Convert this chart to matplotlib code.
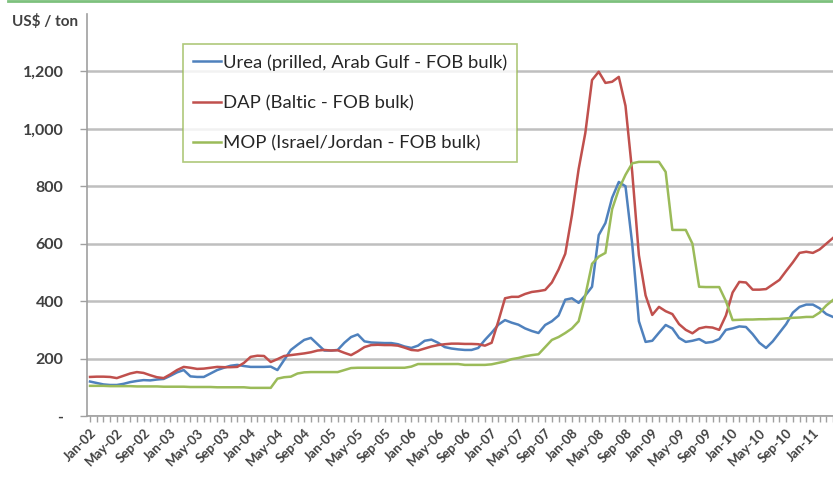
import numpy as np
import matplotlib
matplotlib.use("Agg")
import matplotlib.pyplot as plt
from matplotlib.lines import Line2D

# Monthly prices, Jan-02 onwards (US$ / ton)
urea = [120, 115, 110, 108, 108, 112, 118, 122, 125, 124, 127, 129,
        140, 152, 160, 138, 136, 136, 148, 160, 168, 175, 178, 174,
        171, 171, 171, 172, 160, 195, 230, 248, 265, 272, 250, 228,
        228, 230, 255, 275, 284, 260, 256, 255, 254, 254, 250, 242,
        237, 245, 262, 266, 255, 240, 235, 232, 230, 230, 237, 265,
        290, 318, 334, 325, 318, 305, 296, 289, 317, 330, 350, 405,
        410, 394, 420, 450, 630, 672, 760, 815, 800, 600, 330, 258,
        262, 290, 317, 305, 272, 258, 262, 268, 255, 258, 268, 300,
        305, 312, 310, 285, 255, 237, 260, 290, 320, 360, 380, 388,
        388, 375, 355, 345]
dap = [136, 137, 137, 136, 132, 140, 148, 153, 150, 142, 135, 132,
       145, 160, 171, 168, 164, 165, 168, 171, 170, 170, 171, 185,
       206, 210, 209, 188, 198, 209, 212, 215, 218, 222, 228, 230,
       228, 229, 220, 212, 225, 240, 247, 248, 247, 247, 245, 238,
       230, 228, 235, 242, 247, 250, 252, 252, 251, 251, 250, 245,
       255, 330, 410, 415, 415, 425, 432, 435, 439, 465, 510, 565,
       700, 860, 986, 1170, 1199, 1160, 1164, 1181, 1080, 850, 560, 420,
       352, 380, 365, 355, 320, 300, 288, 305, 310, 308, 300, 350,
       430, 467, 465, 440, 440, 442, 458, 474, 505, 535, 568, 572,
       568, 580, 600, 620]
mop = [105, 105, 105, 104, 104, 104, 104, 103, 103, 103, 103, 102,
       102, 102, 102, 101, 101, 101, 101, 100, 100, 100, 100, 100,
       98, 98, 98, 98, 130, 135, 137, 148, 152, 153, 153, 153,
       153, 153, 160, 167, 168, 168, 168, 168, 168, 168, 168, 168,
       172, 181, 181, 181, 181, 181, 181, 181, 178, 178, 178, 178,
       180, 185, 190, 198, 202, 208, 212, 215, 240, 265, 275, 289,
       305, 330, 420, 530, 555, 568, 720, 790, 840, 880, 885, 885,
       885, 885, 850, 648, 648, 648, 600, 450, 449, 449, 449, 400,
       334, 335, 336, 336, 337, 337, 338, 338, 340, 342, 343, 345,
       345, 360, 385, 404]

# labels every four months, Jan-02 .. Jan-11
tick_labels = [f"{m}-{y:02d}" for y in range(2, 12) for m in ["Jan", "May", "Sep"]][:28]
y_ticks = [0, 200, 400, 600, 800, 1000, 1200]
y_tick_labels = ["-", "200", "400", "600", "800", "1,000", "1,200"]

names = ["Urea (prilled, Arab Gulf - FOB bulk)",
         "DAP (Baltic - FOB bulk)",
         "MOP (Israel/Jordan - FOB bulk)"]
colors = ["#4F81BD", "#C0504D", "#9BBB59"]

plt.rcParams['font.family'] = ['Lato', 'DejaVu Sans']

fig = plt.figure(figsize=(8.33, 4.78), dpi=100)
ax = fig.add_axes([87 / 833, 62 / 478, 1 - 87 / 833, (416 - 14) / 478])

x = np.arange(len(urea))
for s, name, c in zip([urea, dap, mop], names, colors):
    ax.plot(x, s, color=c, lw=1.8, label=name)

ax.set_xlim(-0.45, 110.9)
ax.set_ylim(0, 1400)
ax.set_yticks(y_ticks)
ax.set_yticklabels(y_tick_labels, fontsize=11.5, fontweight='bold', color='#404040')
ax.yaxis.grid(True, color='#BFBFBF', lw=1.8)
ax.set_axisbelow(True)

ax.set_xticks(np.arange(len(tick_labels)) * 4)
ax.set_xticklabels(tick_labels, rotation=45, ha='right', rotation_mode='anchor',
                   fontsize=9.5, fontweight='bold', color='#404040')
ax.set_xticks(np.arange(0, 112), minor=True)
ax.tick_params(axis='x', which='both', length=4, color='#A0A0A0', width=1)
ax.tick_params(axis='y', length=5, color='#A0A0A0', width=1, pad=12)

for side in ['top', 'right']:
    ax.spines[side].set_visible(False)
for side in ['left', 'bottom']:
    ax.spines[side].set_color('#A0A0A0')
    ax.spines[side].set_linewidth(1.2)

fig.text(12 / 833, 1 - 22 / 478, "US$ / ton", fontsize=11, fontweight='bold',
         color='#404040', va='center')

leg = ax.legend(loc='upper left', bbox_to_anchor=(183 / 833, 1 - 44 / 478),
                bbox_transform=fig.transFigure, fontsize=13.3, frameon=True,
                fancybox=False, handlelength=1.5, handletextpad=0.1,
                labelspacing=1.32, borderpad=0.55, borderaxespad=0)
leg.get_frame().set_edgecolor('#9BBB59')
leg.get_frame().set_linewidth(1.2)
for t in leg.get_texts():
    t.set_color('#262626')

fig.add_artist(Line2D([0.01, 1], [0.997, 0.997], transform=fig.transFigure,
                      color='#7DC17D', lw=2))

fig.savefig("out.png", dpi=100)
